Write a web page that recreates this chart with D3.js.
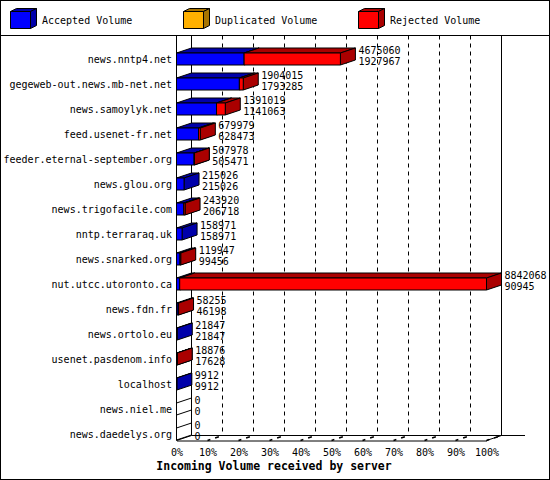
<!DOCTYPE html>
<html>
<head>
<meta charset="utf-8">
<script src="https://cdn.jsdelivr.net/npm/d3@7"></script>
<style>
  body { margin: 0; background: #fff; }
  text { font-family: "DejaVu Sans Mono", monospace; font-size: 10px; fill: #000; }
</style>
</head>
<body>
<div id="bar-chart"></div>
<script>
// Servers, top to bottom
var servers = ["news.nntp4.net", "gegeweb-out.news.mb-net.net", "news.samoylyk.net",
    "feed.usenet-fr.net", "feeder.eternal-september.org", "news.glou.org",
    "news.trigofacile.com", "nntp.terraraq.uk", "news.snarked.org",
    "nut.utcc.utoronto.ca", "news.fdn.fr", "news.ortolo.eu",
    "usenet.pasdenom.info", "localhost", "news.niel.me", "news.daedelys.org"];

// Volumes (bytes)
var totalVolume = [4675060, 1904015, 1391019, 679979, 507978, 215026, 243920, 158971,
    119947, 8842068, 58255, 21847, 18876, 9912, 0, 0];
var acceptedVolume = [1927967, 1793285, 1141063, 628473, 505471, 215026, 206718, 158971,
    99456, 90945, 46198, 21847, 17628, 9912, 0, 0];
var duplicatedVolume = [0, 0, 0, 0, 0, 0, 0, 0, 0, 0, 0, 0, 0, 0, 0, 0];
var rejectedVolume = [2747093, 110730, 249956, 51506, 2507, 0, 37202, 0,
    20491, 8751123, 12057, 0, 1248, 0, 0, 0];

var percentTicks = [0, 10, 20, 30, 40, 50, 60, 70, 80, 90, 100];

var seriesNames = ["Accepted Volume", "Duplicated Volume", "Rejected Volume"];
var seriesFront = ["#0000ff", "#ffb000", "#ff0000"];
var seriesDark = ["#0000aa", "#a87400", "#aa0000"];

var W = 550, H = 480;
var dx = 15, dy = 5;          // 3d depth offset
var half = 6;                 // half height of a bar front face

var svg = d3.select("#bar-chart").append("svg")
    .attr("width", W)
    .attr("height", H);

// frame and legend separator
svg.append("rect")
    .attr("x", 0.5).attr("y", 0.5)
    .attr("width", W - 1).attr("height", H - 1)
    .attr("fill", "#fff").attr("stroke", "#000");
svg.append("line")
    .attr("x1", 0).attr("x2", W)
    .attr("y1", 35.5).attr("y2", 35.5)
    .attr("stroke", "#000");

function poly(g, pts, fill) {
    return g.append("polygon")
        .attr("points", pts.map(function(p) { return p.join(","); }).join(" "))
        .attr("fill", fill)
        .attr("stroke", "#000")
        .attr("stroke-width", 1)
        .attr("stroke-linejoin", "miter");
}

// Legend
var legendX = [10, 183, 358];
var legend = svg.append("g");
seriesNames.forEach(function(name, i) {
    var x = legendX[i] + 0.5, y = 11.5, w = 20, h = 17, d = 6, e = 3;
    poly(legend, [[x, y], [x + w, y], [x + w + d, y - e], [x + d, y - e]], seriesDark[i]);
    poly(legend, [[x + w, y], [x + w, y + h], [x + w + d, y + h - e], [x + w + d, y - e]], seriesDark[i]);
    poly(legend, [[x, y], [x + w, y], [x + w, y + h], [x, y + h]], seriesFront[i]);
    legend.append("text")
        .attr("x", legendX[i] + 32)
        .attr("y", 20)
        .attr("dy", "0.35em")
        .text(name);
});

// Scales
var maxVolume = d3.max(totalVolume);
var xScale = d3.scaleLinear().domain([0, maxVolume]).range([176.5, 486.5]);
var pctScale = d3.scaleLinear().domain([0, 100]).range([176.5, 486.5]);
var yScale = d3.scaleBand().domain(servers).range([46.5, 446.5]);

var plotTop = 35.5, floorFront = 440.5, floorBack = floorFront - dy;

var grid = svg.append("g");

// back wall dashed gridlines
grid.selectAll("line.grid")
    .data(percentTicks.slice(1, -1))
    .enter()
    .append("line")
    .attr("x1", function(d) { return pctScale(d) + dx; })
    .attr("x2", function(d) { return pctScale(d) + dx; })
    .attr("y1", plotTop)
    .attr("y2", floorBack)
    .attr("stroke", "#000")
    .attr("stroke-dasharray", "4,4");

// frame of the 3d box
var frame = [
    [pctScale(0), plotTop, pctScale(0), floorFront],
    [pctScale(0) + dx, plotTop, pctScale(0) + dx, floorBack],
    [pctScale(100) + dx, plotTop, pctScale(100) + dx, floorBack],
    [pctScale(0) + dx, floorBack, 525, floorBack],
    [pctScale(0), floorFront, pctScale(0) + dx, floorBack],
    [pctScale(100), floorFront, pctScale(100) + dx, floorBack]
];
grid.selectAll("line.frame")
    .data(frame)
    .enter()
    .append("line")
    .attr("x1", function(d) { return d[0]; })
    .attr("y1", function(d) { return d[1]; })
    .attr("x2", function(d) { return d[2]; })
    .attr("y2", function(d) { return d[3]; })
    .attr("stroke", "#000");

// 3d tick marks on the floor
grid.selectAll("line.tick3d")
    .data(percentTicks.slice(1))
    .enter()
    .append("line")
    .attr("x1", function(d) { return pctScale(d); })
    .attr("y1", floorFront)
    .attr("x2", function(d) { return pctScale(d) + dx; })
    .attr("y2", floorBack)
    .attr("stroke", "#000")
    .attr("stroke-width", 1.5)
    .attr("stroke-dasharray", "3,5,4,20");

// Bars
var bars = svg.append("g");
servers.forEach(function(s, i) {
    var cy = yScale(s) + yScale.bandwidth() / 2;
    var yt = cy - half, yb = cy + half;
    var x0 = xScale(0);

    if (totalVolume[i] === 0) {
        // empty bar: only its outline on the left wall
        poly(bars, [[x0, yt], [x0, yb], [x0 + dx, yb - dy], [x0 + dx, yt - dy]], "none");
        return;
    }

    var parts = [acceptedVolume[i], duplicatedVolume[i], rejectedVolume[i]];
    var acc = 0;
    parts.forEach(function(v, k) {
        if (v === 0) return;
        var xa = xScale(acc), xb = xScale(acc + v);
        acc += v;
        poly(bars, [[xa, yt], [xb, yt], [xb + dx, yt - dy], [xa + dx, yt - dy]], seriesDark[k]);
        poly(bars, [[xb, yt], [xb, yb], [xb + dx, yb - dy], [xb + dx, yt - dy]], seriesDark[k]);
        poly(bars, [[xa, yt], [xb, yt], [xb, yb], [xa, yb]], seriesFront[k]);
    });
});

// value labels: total on top, accepted below
servers.forEach(function(s, i) {
    var cy = yScale(s) + yScale.bandwidth() / 2;
    var lx = xScale(totalVolume[i]) + dx + 3;
    bars.append("text")
        .attr("x", lx).attr("y", cy - 8.5).attr("dy", "0.35em")
        .text(totalVolume[i]);
    bars.append("text")
        .attr("x", lx).attr("y", cy + 2).attr("dy", "0.35em")
        .text(acceptedVolume[i]);
});

// Server names
svg.append("g")
    .selectAll("text")
    .data(servers)
    .enter()
    .append("text")
    .attr("x", 172)
    .attr("y", function(d) { return yScale(d) + yScale.bandwidth() / 2; })
    .attr("dy", "0.35em")
    .attr("text-anchor", "end")
    .text(function(d) { return d; });

// Percent axis along the front floor edge
var xAxis = d3.axisBottom(pctScale)
    .tickValues(percentTicks)
    .tickSize(0)
    .tickPadding(8)
    .tickFormat(function(d) { return d + "%"; });

var axisG = svg.append("g")
    .attr("transform", "translate(0," + floorFront + ")")
    .call(xAxis);
axisG.select(".domain").attr("stroke", "#000");
axisG.selectAll("text")
    .attr("font-family", "DejaVu Sans Mono")
    .attr("font-size", 10)
    .attr("fill", "#000");

// Axis title
svg.append("text")
    .attr("x", 274)
    .attr("y", 466)
    .attr("dy", "0.35em")
    .attr("text-anchor", "middle")
    .style("font-weight", "bold")
    .style("font-size", "11.5px")
    .text("Incoming Volume received by server");
</script>
</body>
</html>
